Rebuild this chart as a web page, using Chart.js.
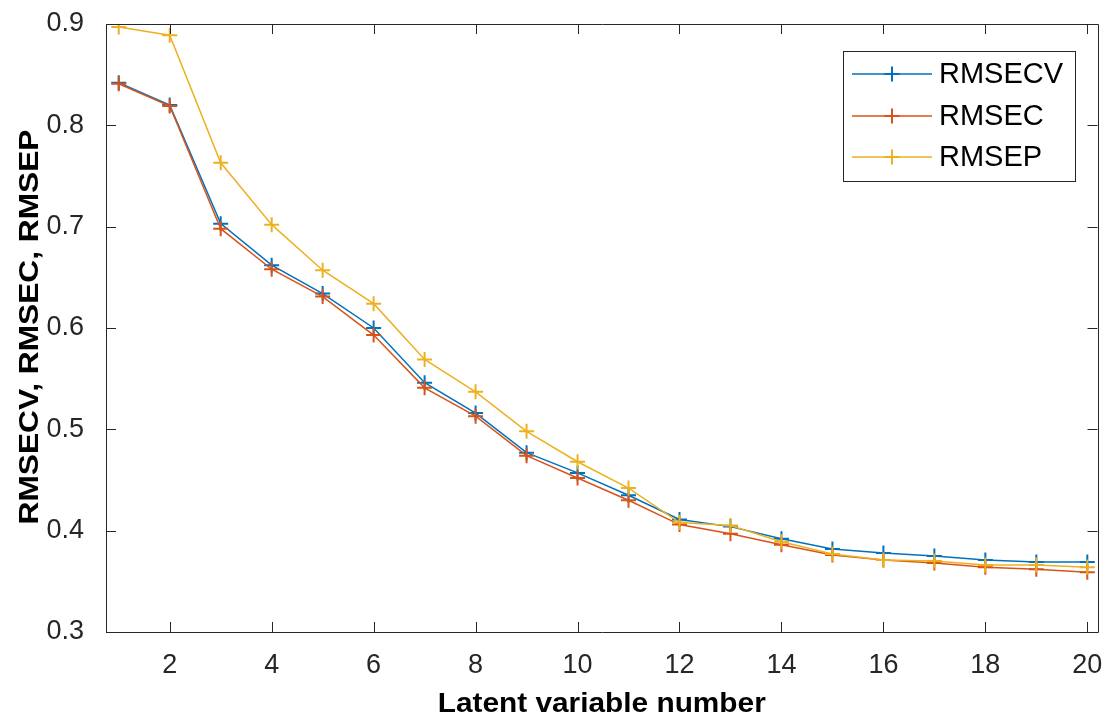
<!DOCTYPE html>
<html>
<head>
<meta charset="utf-8">
<script src="https://cdn.jsdelivr.net/npm/chart.js@4.4.1/dist/chart.umd.min.js"></script>
<style>
html,body{margin:0;padding:0;background:#fff;}
#wrap{width:1107px;height:720px;position:relative;}
</style>
</head>
<body>
<div id="wrap"><canvas id="c" width="1107" height="720"></canvas></div>
<script>
const latentNumbers = [1,2,3,4,5,6,7,8,9,10,11,12,13,14,15,16,17,18,19,20];
const rmsecv = [0.842,0.820,0.703,0.662,0.634,0.600,0.546,0.516,0.477,0.457,0.435,0.411,0.404,0.392,0.382,0.378,0.375,0.371,0.369,0.369];
const rmsec  = [0.841,0.819,0.698,0.658,0.631,0.593,0.541,0.513,0.474,0.452,0.430,0.406,0.397,0.386,0.376,0.371,0.368,0.364,0.362,0.359];
const rmsep  = [0.897,0.889,0.763,0.702,0.657,0.624,0.569,0.537,0.498,0.468,0.442,0.408,0.405,0.389,0.377,0.371,0.370,0.366,0.366,0.364];
const xTickValues = [2,4,6,8,10,12,14,16,18,20];
const yTickValues = [0.3,0.4,0.5,0.6,0.7,0.8,0.9];
const seriesNames = ['RMSECV','RMSEC','RMSEP'];
const seriesColors = ['#0072BD','#D95319','#EDB120'];
const xTitle = 'Latent variable number';
const yTitle = 'RMSECV, RMSEC, RMSEP';

const FONT = '"Liberation Sans", Arial, Helvetica, sans-serif';
const AXIS = '#262626';

function toPts(vals){ return latentNumbers.map((x,i)=>({x:x,y:vals[i]})); }

const seriesValues = [rmsecv, rmsec, rmsep];
const datasets = seriesNames.map((name,i)=>({
  label: name,
  data: toPts(seriesValues[i]),
  borderColor: seriesColors[i],
  backgroundColor: seriesColors[i],
  borderWidth: 1.5,
  pointStyle: 'cross',
  pointRadius: 7.5,
  pointBorderWidth: 2,
  pointHoverRadius: 7.5,
  tension: 0,
  fill: false,
  order: 2 - i
}));

function stretchedText(ctx, text, x, y, rot, targetLen){
  ctx.save();
  ctx.translate(x, y);
  ctx.rotate(rot);
  const w = ctx.measureText(text).width;
  ctx.scale(targetLen / w, 1);
  ctx.fillText(text, 0, 0);
  ctx.restore();
}

const framePlugin = {
  id: 'frame',
  afterDatasetsDraw(chart){
    const ctx = chart.ctx;
    const a = chart.chartArea;
    const xs = chart.scales.x, ys = chart.scales.y;
    ctx.save();
    ctx.strokeStyle = AXIS;
    ctx.lineWidth = 1;
    ctx.beginPath();
    ctx.rect(Math.round(a.left)+0.5, Math.round(a.top)+0.5, Math.round(a.right-a.left), Math.round(a.bottom-a.top));
    ctx.stroke();
    const tl = 10;
    ctx.beginPath();
    xTickValues.forEach(v=>{
      const px = Math.round(xs.getPixelForValue(v))+0.5;
      ctx.moveTo(px, a.bottom); ctx.lineTo(px, a.bottom - tl);
      ctx.moveTo(px, a.top); ctx.lineTo(px, a.top + tl);
    });
    yTickValues.forEach(v=>{
      const py = Math.round(ys.getPixelForValue(v))+0.5;
      ctx.moveTo(a.left, py); ctx.lineTo(a.left + tl, py);
      ctx.moveTo(a.right, py); ctx.lineTo(a.right - tl, py);
    });
    ctx.stroke();

    // axis titles
    ctx.fillStyle = '#000';
    ctx.font = 'bold 28px ' + FONT;
    ctx.textAlign = 'center';
    ctx.textBaseline = 'alphabetic';
    stretchedText(ctx, xTitle, (a.left + a.right)/2, 712, 0, 328);
    stretchedText(ctx, yTitle, 38, 327, -Math.PI/2, 395);

    // legend
    const lx = 843.5, ly = 51.5, lw = 232, lh = 130;
    ctx.fillStyle = '#fff';
    ctx.fillRect(lx, ly, lw, lh);
    ctx.strokeStyle = '#262626';
    ctx.lineWidth = 1;
    ctx.strokeRect(lx, ly, lw, lh);
    const rowsY = [74, 116, 157];
    chart.data.datasets.forEach((ds,i)=>{
      const y = rowsY[i];
      ctx.strokeStyle = ds.borderColor;
      ctx.lineWidth = 1.5;
      ctx.beginPath(); ctx.moveTo(852, y); ctx.lineTo(932, y); ctx.stroke();
      ctx.lineWidth = 2;
      ctx.beginPath();
      ctx.moveTo(892-7.5, y); ctx.lineTo(892+7.5, y);
      ctx.moveTo(892, y-7.5); ctx.lineTo(892, y+7.5);
      ctx.stroke();
      ctx.fillStyle = '#000';
      ctx.font = '29px ' + FONT;
      ctx.textBaseline = 'middle';
      ctx.textAlign = 'left';
      ctx.fillText(ds.label, 939, y+1);
    });
    ctx.restore();
  }
};

new Chart(document.getElementById('c'), {
  type: 'line',
  data: { datasets: datasets },
  options: {
    responsive: false,
    animation: false,
    devicePixelRatio: 1,
    layout: { padding: { left: 0, top: 24, right: 7, bottom: 0 } },
    plugins: { legend: { display: false }, tooltip: { enabled: false } },
    scales: {
      x: {
        type: 'linear',
        min: 0.75,
        max: 20.2,
        afterBuildTicks(s){ s.ticks = xTickValues.map(v=>({value:v})); },
        afterFit(s){ s.height = 88; s.paddingLeft = 0; s.paddingRight = 0; },
        grid: { display: false },
        border: { display: false },
        ticks: { color: AXIS, font: { family: FONT, size: 27 }, padding: 9, maxRotation: 0, autoSkip: false },
        title: { display: false }
      },
      y: {
        type: 'linear',
        min: 0.3,
        max: 0.9,
        afterBuildTicks(s){ s.ticks = yTickValues.map(v=>({value:v})); },
        afterFit(s){ s.width = 106; s.paddingTop = 0; s.paddingBottom = 0; },
        grid: { display: false },
        border: { display: false },
        ticks: { color: AXIS, font: { family: FONT, size: 27 }, padding: 14, callback: v => v.toFixed(1) },
        title: { display: false }
      }
    }
  },
  plugins: [framePlugin]
});
</script>
</body>
</html>
